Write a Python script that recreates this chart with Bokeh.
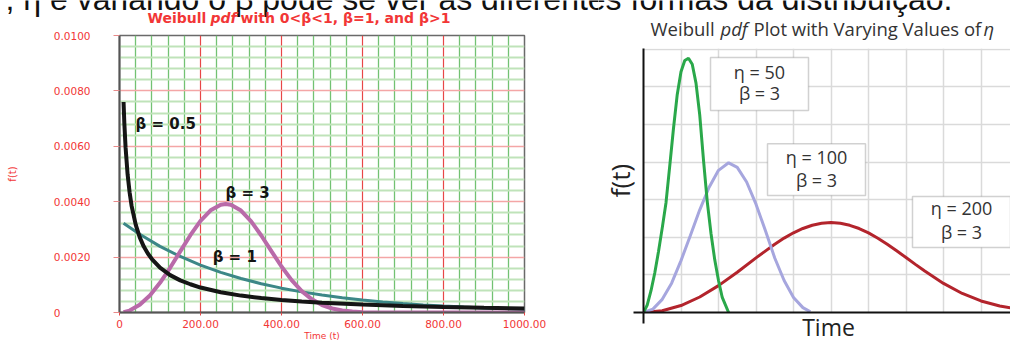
import math
from bokeh.plotting import figure
from bokeh.layouts import column, row
from bokeh.models import Range1d, FixedTicker, Label, BoxAnnotation, CustomJSTickFormatter
from bokeh.embed import file_html
from bokeh.resources import INLINE

# ---------------- data: left chart (Weibull pdf) ----------------
t_b05 = [10, 12, 15, 20, 25, 30, 40, 50, 60, 70, 80, 100, 125, 150, 175, 200, 250, 300,
         350, 400, 450, 500, 600, 700, 800, 900, 1000]
f_b05 = [0.00760, 0.00682, 0.00596, 0.00499, 0.00433, 0.00384, 0.00317, 0.00271, 0.00238,
         0.00213, 0.00193, 0.00162, 0.00135, 0.00116, 0.00102, 0.00090, 0.00073, 0.00061,
         0.00052, 0.000455, 0.00040, 0.000355, 0.000287, 0.000237, 0.000199, 0.000170, 0.000147]

t_b1 = [10, 50, 100, 150, 200, 250, 300, 350, 400, 450, 500, 550, 600, 650, 700, 750, 800,
        850, 900, 950, 1000]
f_b1 = [0.003224, 0.002822, 0.002388, 0.002022, 0.001711, 0.001449, 0.001226, 0.001038,
        0.000879, 0.000744, 0.000630, 0.000533, 0.000451, 0.000382, 0.000323, 0.000274,
        0.000232, 0.000196, 0.000166, 0.000140, 0.000119]

t_b3 = [10, 25, 50, 75, 100, 125, 150, 175, 200, 225, 250, 262, 275, 300, 325, 350, 375, 400,
        425, 450, 475, 500, 525, 550, 575, 600, 650, 700, 800, 900, 1000]
f_b3 = [0.0000111, 0.0000694, 0.000277, 0.000615, 0.001071, 0.001615, 0.002206, 0.002790,
        0.003305, 0.003689, 0.003893, 0.003918, 0.003890, 0.003679, 0.003291, 0.002781,
        0.002216, 0.001661, 0.001169, 0.000770, 0.000474, 0.000271, 0.000144, 0.0000709,
        0.0000322, 0.0000134, 0.000001, 0.0, 0.0, 0.0, 0.0]

x_tick_values = [0, 200, 400, 600, 800, 1000]
x_tick_labels = ["0", "200.00", "400.00", "600.00", "800.00", "1000.00"]
y_tick_values = [0, 0.002, 0.004, 0.006, 0.008, 0.01]
y_tick_labels = ["0", "0.0020", "0.0040", "0.0060", "0.0080", "0.0100"]

curve_labels = ["β = 0.5", "β = 3", "β = 1"]

# ---------------- data: right chart (three Weibull beta=3 curves) ----------------
g_t = [0, 0.1, 0.2, 0.3, 0.4, 0.5, 0.6, 0.7, 0.8, 0.9, 1.0, 1.1, 1.2, 1.3, 1.4, 1.5, 1.6,
       1.7, 1.8, 1.9, 2.0, 2.1, 2.27]
g_f = [0, 0.2, 0.58, 1.05, 1.62, 2.25, 2.92, 3.9, 4.9, 5.8, 6.4, 6.7, 6.76, 6.6, 6.1, 5.25,
       4.05, 2.95, 2.1, 1.4, 0.85, 0.4, 0.0]

b_t = [0, 0.25, 0.5, 0.75, 1.0, 1.25, 1.5, 1.75, 2.0, 2.27, 2.5, 2.75, 3.0, 3.25, 3.5, 3.75,
       4.0, 4.25, 4.45]
b_f = [0, 0.09, 0.35, 0.78, 1.38, 2.05, 2.73, 3.33, 3.78, 3.98, 3.86, 3.47, 2.88, 2.18, 1.45,
       0.85, 0.40, 0.13, 0.02]

r_t = [0, 0.5, 1, 1.5, 2, 2.5, 3, 3.5, 3.75, 4, 4.25, 4.5, 4.75, 5, 5.25, 5.5, 5.75, 6, 6.25,
       6.5, 6.75, 7, 7.25, 7.5, 8, 8.5, 9, 9.5, 10]
r_f = [0, 0.047, 0.185, 0.412, 0.715, 1.072, 1.453, 1.816, 1.978, 2.119, 2.234, 2.320, 2.372,
       2.390, 2.372, 2.318, 2.233, 2.117, 1.976, 1.816, 1.642, 1.461, 1.279, 1.101, 0.774,
       0.506, 0.307, 0.172, 0.089]

box_texts = [("η = 50", "β = 3"), ("η = 100", "β = 3"), ("η = 200", "β = 3")]

top_text = ", η e variando o β pode se ver as diferentes formas da distribuição."

RED = "#f23636"
empty_fmt = CustomJSTickFormatter(code="return ''")


def strip(width, height, x0):
    p = figure(frame_width=width, frame_height=height, x_range=Range1d(x0, x0 + width),
               y_range=Range1d(height, 0), x_axis_location=None, y_axis_location=None,
               output_backend="svg", toolbar_location=None, min_border=0)
    p.frame_align = False
    p.outline_line_color = None
    p.grid.visible = False
    # the cut-off sentence at the very top of the page
    p.add_layout(Label(x=5, y=-2, text=top_text, text_font="Liberation Sans",
                       text_font_size="32px", text_color="#111111", text_baseline="alphabetic"))
    return p


# ---------------- top strips ----------------
tL = strip(598, 28, 0)
for txt, lx, style in [("Weibull", 147, "bold"), ("pdf", 210, "bold italic"),
                       ("with 0<β<1, β=1, and β>1", 240, "bold")]:
    tL.add_layout(Label(x=lx, y=17, text=txt, text_font="DejaVu Sans", text_font_style=style,
                        text_font_size="14px", text_color=RED, text_baseline="middle"))

tR = strip(412, 40, 598)
for txt, lx, style in [("Weibull", 650, "normal"), ("pdf", 720, "italic"),
                       ("Plot with Varying Values of", 753, "normal"), ("η", 983, "italic")]:
    tR.add_layout(Label(x=lx, y=28, text=txt, text_font="Open Sans", text_font_style=style,
                        text_font_size="18.5px", text_color="#333333", text_baseline="middle"))

# ---------------- left chart ----------------
pL = figure(frame_width=405, frame_height=277, x_range=Range1d(0, 1000),
            y_range=Range1d(0, 0.01), output_backend="svg", toolbar_location=None,
            min_border_left=119, min_border_right=74, min_border_top=7, min_border_bottom=29)
pL.frame_align = False
pL.outline_line_color = "#6a6a6a"
pL.outline_line_width = 1.5

xt = FixedTicker(ticks=x_tick_values,
                 minor_ticks=[v for v in range(0, 1001, 40) if v % 200 != 0])
yt = FixedTicker(ticks=y_tick_values,
                 minor_ticks=[round(k * 0.0004, 4) for k in range(26) if k % 5 != 0])
pL.xaxis.ticker = xt
pL.yaxis.ticker = yt
pL.xgrid.ticker = xt
pL.ygrid.ticker = yt

pL.xgrid.grid_line_color = "#e84646"
pL.xgrid.grid_line_width = 1.2
pL.xgrid.minor_grid_line_color = "#72c272"
pL.xgrid.minor_grid_line_width = 1.3
pL.ygrid.grid_line_color = "#f4a6a6"
pL.ygrid.grid_line_width = 1.5
pL.ygrid.minor_grid_line_color = "#bfe3b9"
pL.ygrid.minor_grid_line_width = 2

for ax in (pL.xaxis[0], pL.yaxis[0]):
    ax.axis_line_color = "#555555"
    ax.axis_line_width = 2
    ax.major_tick_in = 0
    ax.minor_tick_line_color = None
    ax.major_label_text_font = "DejaVu Sans"
    ax.major_label_text_font_size = "10.5px"
    ax.major_label_text_color = RED
    ax.axis_label_text_font = "DejaVu Sans"
    ax.axis_label_text_font_style = "normal"
    ax.axis_label_text_color = RED
pL.xaxis.major_tick_out = 3
pL.xaxis.major_tick_line_color = "#e84646"
pL.xaxis.major_label_overrides = dict(zip(x_tick_values, x_tick_labels))
pL.xaxis.major_label_standoff = 3
pL.xaxis.axis_label = "Time (t)"
pL.xaxis.axis_label_text_font_size = "9px"
pL.xaxis.axis_label_standoff = 0
pL.yaxis.major_tick_out = 6
pL.yaxis.major_tick_line_color = "#e88a8a"
# labels are left-aligned in the original: pad the short "0" with digit-wide spaces
pad = "\u2007\u2007\u2007\u2007\u2008"
pL.yaxis.major_label_overrides = {v: (s if len(s) > 1 else s + pad)
                                  for v, s in zip(y_tick_values, y_tick_labels)}
pL.yaxis.major_label_standoff = 23
pL.yaxis.axis_label = "f(t)"
pL.yaxis.axis_label_text_font_size = "10px"
pL.yaxis.axis_label_standoff = 33

pL.line(t_b1, f_b1, line_color="#3c8787", line_width=3)
pL.line(t_b3, f_b3, line_color="#b96aa9", line_width=4)
pL.line(t_b05, f_b05, line_color="#151515", line_width=4)

lab_pos = [(39.5, 0.00682), (262, 0.00433), (230, 0.00199)]
for txt, (lx, ly) in zip(curve_labels, lab_pos):
    pL.add_layout(Label(x=lx, y=ly, text=txt, text_font="DejaVu Sans", text_font_style="bold",
                        text_font_size="15px", text_color="#141414", text_baseline="middle"))

# ---------------- right chart ----------------
X_END = 370 / 37.5
pR = figure(frame_width=370, frame_height=264, x_range=Range1d(0, X_END),
            y_range=Range1d(0, 7.02), output_backend="svg", toolbar_location=None,
            min_border_left=42, min_border_right=0, min_border_top=8, min_border_bottom=29)
pR.frame_align = False
pR.outline_line_color = None
pR.xgrid.ticker = FixedTicker(ticks=list(range(1, 10)))
pR.ygrid.ticker = FixedTicker(ticks=list(range(1, 8)))
pR.grid.grid_line_color = "#dadada"
pR.grid.grid_line_width = 1.5

pR.xaxis.ticker = FixedTicker(ticks=[], minor_ticks=[0])
pR.yaxis.ticker = FixedTicker(ticks=[], minor_ticks=[0])
for ax in (pR.xaxis[0], pR.yaxis[0]):
    ax.axis_line_color = "#111111"
    ax.axis_line_width = 2
    ax.major_tick_out = 0
    ax.major_tick_in = 0
    ax.minor_tick_in = 0
    ax.minor_tick_line_color = "#111111"
    ax.minor_tick_line_width = 2
    ax.formatter = empty_fmt
    ax.major_label_standoff = 0
    ax.axis_label_text_font = "Open Sans"
    ax.axis_label_text_font_style = "normal"
    ax.axis_label_text_color = "#222222"
pR.xaxis.minor_tick_out = 11
pR.yaxis.minor_tick_out = 10
pR.xaxis.axis_label = "Time"
pR.xaxis.axis_label_text_font_size = "23px"
pR.xaxis.axis_label_standoff = -13
pR.yaxis.axis_label = "f(t)"
pR.yaxis.axis_label_text_font_size = "26px"
pR.yaxis.axis_label_standoff = -4

pR.line(r_t, r_f, line_color="#b3242c", line_width=3)
pR.line(b_t, b_f, line_color="#a6a6de", line_width=3)
pR.line(g_t, g_f, line_color="#2aa84a", line_width=3)

boxes = [(1.787, 4.40, 5.37, 6.78), (3.307, 5.92, 3.11, 4.49), (7.173, 9.787, 1.729, 3.085)]
text_pos = [(3.093, 6.383, 5.824), (4.613, 4.122, 3.511), (8.48, 2.766, 2.128)]
for (l, r, b, t), (cx, y1, y2), (s1, s2) in zip(boxes, text_pos, box_texts):
    pR.add_layout(BoxAnnotation(left=l, right=r, bottom=b, top=t, fill_color="white",
                                fill_alpha=1, line_color="#666666", line_width=1.5))
    for s, yy in ((s1, y1), (s2, y2)):
        pR.add_layout(Label(x=cx, y=yy, text=s, text_font="Open Sans", text_font_size="18px",
                            text_color="#333333", text_align="center", text_baseline="middle"))

layout = row(column(tL, pL, spacing=0), column(tR, pR, spacing=0), spacing=0)
open("out.html", "w").write(file_html(layout, INLINE))
